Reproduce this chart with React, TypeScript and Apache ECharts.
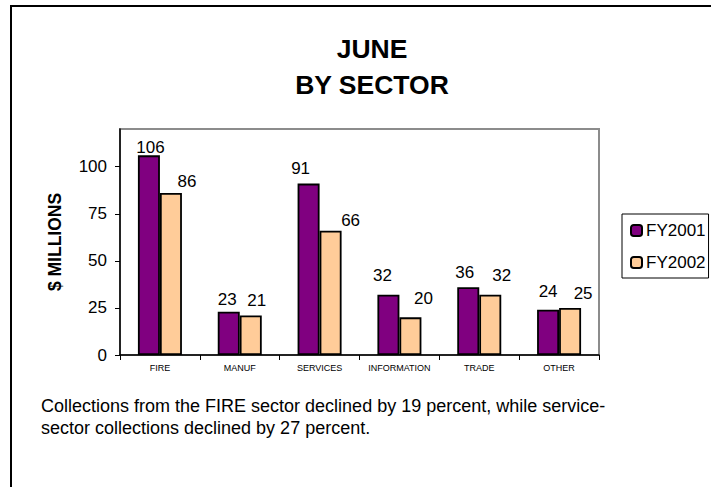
import React, { useEffect, useRef } from "react";
import * as echarts from "echarts";

const categories = ["FIRE", "MANUF", "SERVICES", "INFORMATION", "TRADE", "OTHER"];
const fy2001 = [106, 23, 91, 32, 36, 24];
const fy2002 = [86, 21, 66, 20, 32, 25];
const seriesNames = ["FY2001", "FY2002"];
const yTicks = [0, 25, 50, 75, 100];
const titleLines = ["JUNE", "BY SECTOR"];
const yAxisTitle = "$ MILLIONS";
const noteLines = [
  "Collections from the FIRE sector declined by 19 percent, while service-",
  "sector collections declined by 27 percent.",
];

// label placement tweaks (layout only)
const offsets2001: number[][] = [[1.5, 6], [-1.5, 1.8], [-8, -1.6], [-6, -6.2], [-3.5, -1.4], [0, -5]];
const offsets2002: number[][] = [[16, 1.5], [6, -1.5], [20, 3.3], [13, -5.8], [11.5, -5.4], [13, -0.9]];

const FONT = "'Liberation Sans', Arial, sans-serif";

export default function App() {
  const ref = useRef<HTMLDivElement>(null);
  useEffect(() => {
    if (!ref.current) return;
    const chart = echarts.init(ref.current, null, { renderer: "svg" });
    const labelBase = {
      show: true,
      position: "top",
      distance: 5,
      color: "#000",
      fontSize: 17,
      fontFamily: FONT,
    };
    chart.setOption({
      animation: false,
      backgroundColor: "#fff",
      textStyle: { fontFamily: FONT },
      grid: {
        left: 120,
        right: 112,
        top: 129,
        bottom: 132,
        show: true,
        borderColor: "#8c8c8c",
        borderWidth: 2,
        backgroundColor: "#fff",
      },
      legend: {
        orient: "vertical",
        left: 622,
        top: 214,
        data: seriesNames,
        itemWidth: 11,
        itemHeight: 11,
        itemGap: 15,
        padding: [8, 3, 7, 8],
        borderColor: "#000",
        borderWidth: 1,
        textStyle: { fontSize: 17, color: "#000", fontFamily: FONT, padding: [0, 0, 0, -1] },
      },
      xAxis: {
        type: "category",
        data: categories,
        axisLine: { lineStyle: { color: "#000", width: 1.5 } },
        axisTick: { show: true, length: 5, lineStyle: { color: "#000" } },
        axisLabel: { fontSize: 9, color: "#000", margin: 8, interval: 0, fontFamily: FONT },
      },
      yAxis: {
        type: "value",
        min: 0,
        max: 120,
        interval: 25,
        name: yAxisTitle,
        nameLocation: "middle",
        nameGap: 56,
        nameTextStyle: { fontSize: 17.5, fontWeight: "bold", color: "#000", fontFamily: FONT },
        axisLine: { show: true, lineStyle: { color: "#000", width: 1.5 } },
        axisTick: { show: true, length: 5, customValues: yTicks, lineStyle: { color: "#000" } },
        axisLabel: { fontSize: 17, color: "#000", margin: 13, customValues: yTicks, fontFamily: FONT },
        splitLine: { show: false },
      },
      series: [
        {
          name: seriesNames[0],
          type: "bar",
          barWidth: 22,
          barGap: "0%",
          itemStyle: { color: "#800080", borderColor: "#000", borderWidth: 1.8 },
          data: fy2001.map((v, i) => ({ value: v, label: { ...labelBase, offset: offsets2001[i] } })),
        },
        {
          name: seriesNames[1],
          type: "bar",
          barWidth: 22,
          barGap: "0%",
          itemStyle: { color: "#FFCC99", borderColor: "#000", borderWidth: 1.8 },
          data: fy2002.map((v, i) => ({ value: v, label: { ...labelBase, offset: offsets2002[i] } })),
        },
      ],
      graphic: [
        {
          type: "rect",
          z: -10,
          shape: { x: 11, y: 6, width: 800, height: 600 },
          style: { fill: "none", stroke: "#000", lineWidth: 2 },
        },
        {
          type: "text",
          x: 372,
          y: 49,
          style: { text: titleLines[0], fontSize: 26.5, fontWeight: "bold", fontFamily: FONT, fill: "#000", align: "center", verticalAlign: "middle" },
        },
        {
          type: "text",
          x: 372,
          y: 85,
          style: { text: titleLines[1], fontSize: 26.5, fontWeight: "bold", fontFamily: FONT, fill: "#000", align: "center", verticalAlign: "middle" },
        },
        {
          type: "text",
          x: 41,
          y: 406,
          style: { text: noteLines[0], fontSize: 18, fontFamily: FONT, fill: "#000", align: "left", verticalAlign: "middle" },
        },
        {
          type: "text",
          x: 41,
          y: 428,
          style: { text: noteLines[1], fontSize: 18, fontFamily: FONT, fill: "#000", align: "left", verticalAlign: "middle" },
        },
      ],
    });
    return () => chart.dispose();
  }, []);
  return (
    <div
      ref={ref}
      style={{ position: "absolute", left: 0, top: 0, width: 711, height: 487, overflow: "hidden" }}
    />
  );
}
